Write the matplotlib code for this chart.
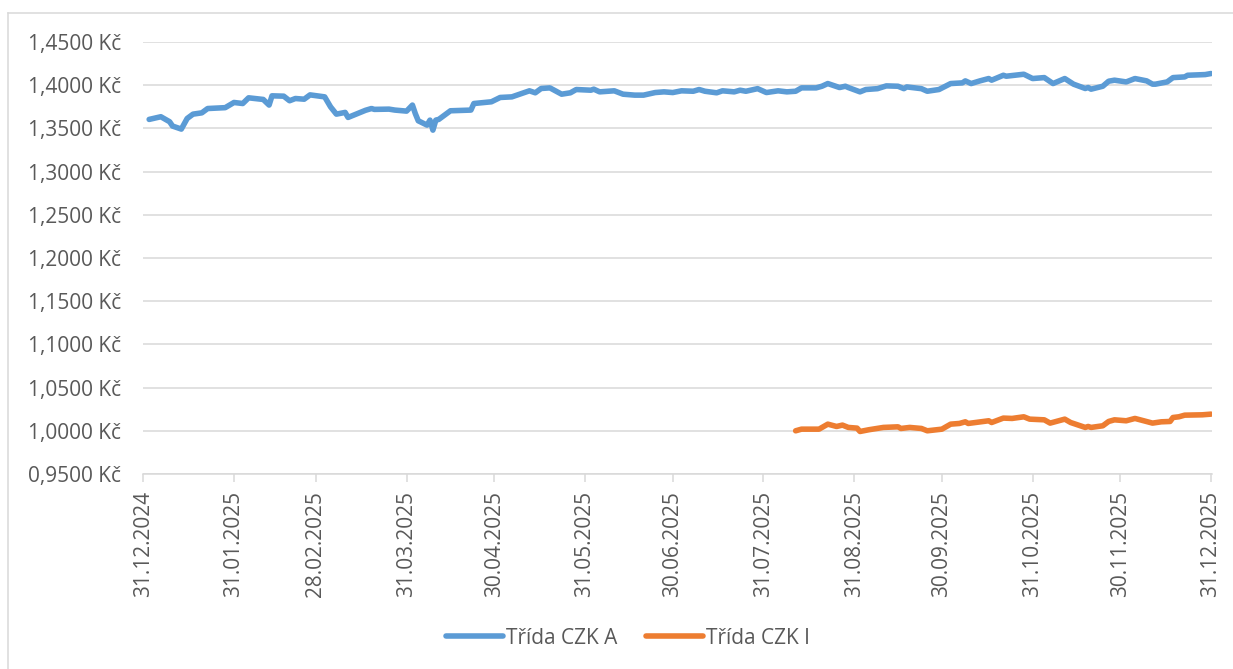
import pandas as pd
import matplotlib
matplotlib.use("Agg")
import matplotlib.pyplot as plt
import matplotlib.dates as mdates
from matplotlib.ticker import FuncFormatter
from matplotlib.lines import Line2D

# Třída CZK A
a_dates = [
    "2025-01-02", "2025-01-06", "2025-01-09", "2025-01-10", "2025-01-13", "2025-01-15",
    "2025-01-17", "2025-01-20", "2025-01-22", "2025-01-28", "2025-01-31", "2025-02-03",
    "2025-02-05", "2025-02-10", "2025-02-12", "2025-02-13", "2025-02-17", "2025-02-19",
    "2025-02-21", "2025-02-24", "2025-02-26", "2025-03-03", "2025-03-05", "2025-03-07",
    "2025-03-10", "2025-03-11", "2025-03-17", "2025-03-19", "2025-03-20", "2025-03-25",
    "2025-03-27", "2025-03-31", "2025-04-02", "2025-04-03", "2025-04-04", "2025-04-07",
    "2025-04-08", "2025-04-09", "2025-04-10", "2025-04-11", "2025-04-15", "2025-04-22",
    "2025-04-23", "2025-04-29", "2025-05-02", "2025-05-06", "2025-05-12", "2025-05-14",
    "2025-05-16", "2025-05-19", "2025-05-23", "2025-05-26", "2025-05-28", "2025-06-02",
    "2025-06-03", "2025-06-05", "2025-06-10", "2025-06-13", "2025-06-17", "2025-06-20",
    "2025-06-24", "2025-06-27", "2025-06-30", "2025-07-03", "2025-07-07", "2025-07-09",
    "2025-07-11", "2025-07-15", "2025-07-17", "2025-07-21", "2025-07-23", "2025-07-25",
    "2025-07-29", "2025-08-01", "2025-08-05", "2025-08-08", "2025-08-11", "2025-08-13",
    "2025-08-18", "2025-08-20", "2025-08-22", "2025-08-26", "2025-08-28", "2025-08-29",
    "2025-09-02", "2025-09-04", "2025-09-08", "2025-09-11", "2025-09-15", "2025-09-17",
    "2025-09-18", "2025-09-23", "2025-09-25", "2025-09-29", "2025-10-03", "2025-10-07",
    "2025-10-08", "2025-10-10", "2025-10-13", "2025-10-16", "2025-10-17", "2025-10-21",
    "2025-10-22", "2025-10-28", "2025-10-31", "2025-11-04", "2025-11-07", "2025-11-11",
    "2025-11-14", "2025-11-18", "2025-11-19", "2025-11-20", "2025-11-24", "2025-11-26",
    "2025-11-28", "2025-12-02", "2025-12-05", "2025-12-09", "2025-12-11", "2025-12-12",
    "2025-12-16", "2025-12-18", "2025-12-22", "2025-12-23", "2025-12-29", "2025-12-31",
]
a_values = [
    1.3604, 1.3635, 1.3577, 1.3527, 1.3492, 1.3615,
    1.3665, 1.3680, 1.3730, 1.3740, 1.3800, 1.3788,
    1.3854, 1.3835, 1.3770, 1.3877, 1.3873, 1.3820,
    1.3846, 1.3838, 1.3888, 1.3865, 1.3750, 1.3665,
    1.3685, 1.3627, 1.3710, 1.3730, 1.3720, 1.3723,
    1.3712, 1.3700, 1.3770, 1.3670, 1.3588, 1.3538,
    1.3596, 1.3480, 1.3596, 1.3604, 1.3704, 1.3712,
    1.3788, 1.3808, 1.3858, 1.3865, 1.3935, 1.3912,
    1.3962, 1.3969, 1.3896, 1.3912, 1.3950, 1.3942,
    1.3954, 1.3923, 1.3935, 1.3896, 1.3885, 1.3885,
    1.3915, 1.3923, 1.3915, 1.3935, 1.3930, 1.3950,
    1.3930, 1.3912, 1.3935, 1.3923, 1.3942, 1.3930,
    1.3960, 1.3915, 1.3935, 1.3923, 1.3930, 1.3969,
    1.3969, 1.3988, 1.4019, 1.3973, 1.3988, 1.3973,
    1.3923, 1.3950, 1.3960, 1.3992, 1.3988, 1.3960,
    1.3980, 1.3960, 1.3930, 1.3950, 1.4019, 1.4027,
    1.4050, 1.4019, 1.4050, 1.4077, 1.4058, 1.4115,
    1.4104, 1.4127, 1.4077, 1.4088, 1.4019, 1.4077,
    1.4012, 1.3962, 1.3973, 1.3954, 1.3988, 1.4046,
    1.4058, 1.4038, 1.4077, 1.4050, 1.4012, 1.4012,
    1.4038, 1.4088, 1.4096, 1.4115, 1.4123, 1.4135,
]

# Třída CZK I
i_dates = [
    "2025-08-11", "2025-08-13", "2025-08-19", "2025-08-22", "2025-08-25", "2025-08-27",
    "2025-08-29", "2025-09-01", "2025-09-02", "2025-09-05", "2025-09-10", "2025-09-15",
    "2025-09-16", "2025-09-19", "2025-09-23", "2025-09-25", "2025-09-30", "2025-10-03",
    "2025-10-06", "2025-10-08", "2025-10-09", "2025-10-16", "2025-10-17", "2025-10-21",
    "2025-10-24", "2025-10-28", "2025-10-30", "2025-11-04", "2025-11-06", "2025-11-11",
    "2025-11-13", "2025-11-18", "2025-11-19", "2025-11-20", "2025-11-24", "2025-11-26",
    "2025-11-28", "2025-12-02", "2025-12-05", "2025-12-08", "2025-12-11", "2025-12-14",
    "2025-12-17", "2025-12-18", "2025-12-20", "2025-12-22", "2025-12-28", "2025-12-31",
]
i_values = [
    1.0000, 1.0019, 1.0019, 1.0077, 1.0050, 1.0066,
    1.0039, 1.0031, 0.9992, 1.0012, 1.0039, 1.0046,
    1.0027, 1.0039, 1.0027, 1.0000, 1.0019, 1.0077,
    1.0085, 1.0104, 1.0085, 1.0116, 1.0096, 1.0147,
    1.0143, 1.0162, 1.0135, 1.0127, 1.0089, 1.0135,
    1.0096, 1.0039, 1.0050, 1.0039, 1.0058, 1.0108,
    1.0127, 1.0116, 1.0143, 1.0116, 1.0089, 1.0104,
    1.0108, 1.0154, 1.0162, 1.0181, 1.0185, 1.0193,
]

tick_dates = [
    "2024-12-31", "2025-01-31", "2025-02-28", "2025-03-31", "2025-04-30", "2025-05-31",
    "2025-06-30", "2025-07-31", "2025-08-31", "2025-09-30", "2025-10-31", "2025-11-30",
    "2025-12-31",
]
y_ticks = [0.95, 1.00, 1.05, 1.10, 1.15, 1.20, 1.25, 1.30, 1.35, 1.40, 1.45]
labels = ["Třída CZK A", "Třída CZK I"]

blue = "#5B9BD5"
orange = "#ED7D31"
grid_c = "#D9D9D9"
text_c = "#595959"
fs = 15
lw = 4.0

plt.rcParams["font.family"] = ["Open Sans", "DejaVu Sans"]

fig = plt.figure(figsize=(12.33, 6.69), dpi=100)
ax = fig.add_axes([143.3 / 1233, 1 - 474 / 669, (1212 - 143.3) / 1233, (474 - 42) / 669])

ax.plot(pd.to_datetime(a_dates), a_values, color=blue, lw=lw,
        solid_capstyle="round", solid_joinstyle="round")
ax.plot(pd.to_datetime(i_dates), i_values, color=orange, lw=lw,
        solid_capstyle="round", solid_joinstyle="round")

ax.set_ylim(0.95, 1.45)
ax.set_yticks(y_ticks)
ax.yaxis.set_major_formatter(FuncFormatter(lambda v, p: f"{v:.4f}".replace(".", ",") + " Kč"))
ax.set_xlim(pd.Timestamp("2024-12-31"), pd.Timestamp("2025-12-31") + pd.Timedelta(hours=8))
ax.set_xticks(pd.to_datetime(tick_dates))
ax.xaxis.set_major_formatter(mdates.DateFormatter("%d.%m.%Y"))

ax.grid(axis="y", color=grid_c, lw=1.1)
ax.set_axisbelow(True)
for s in ["left", "right", "top"]:
    ax.spines[s].set_visible(False)
ax.spines["bottom"].set_color(grid_c)
ax.spines["bottom"].set_linewidth(1.1)

ax.tick_params(axis="y", length=0, pad=16, labelsize=fs, labelcolor=text_c)
ax.tick_params(axis="x", length=6, width=1.1, color=grid_c, pad=6,
               labelsize=fs, labelcolor=text_c, labelrotation=90)

handles = [Line2D([], [], color=blue, lw=lw, solid_capstyle="round"),
           Line2D([], [], color=orange, lw=lw, solid_capstyle="round")]
leg = fig.legend(handles, labels, loc="center", bbox_to_anchor=(628 / 1233, 1 - 638 / 669),
                 ncol=2, frameon=False, fontsize=fs, handlelength=2.7, handletextpad=0.15,
                 columnspacing=1.4)
for t in leg.get_texts():
    t.set_color(text_c)

# outer chart border
fig.add_artist(Line2D([8 / 1233, 8 / 1233], [0, 1 - 13 / 669], transform=fig.transFigure,
                      color=grid_c, lw=1.1))
fig.add_artist(Line2D([8 / 1233, 1], [1 - 13 / 669, 1 - 13 / 669], transform=fig.transFigure,
                      color=grid_c, lw=1.1))

fig.savefig("out.png", dpi=100, facecolor="white")
